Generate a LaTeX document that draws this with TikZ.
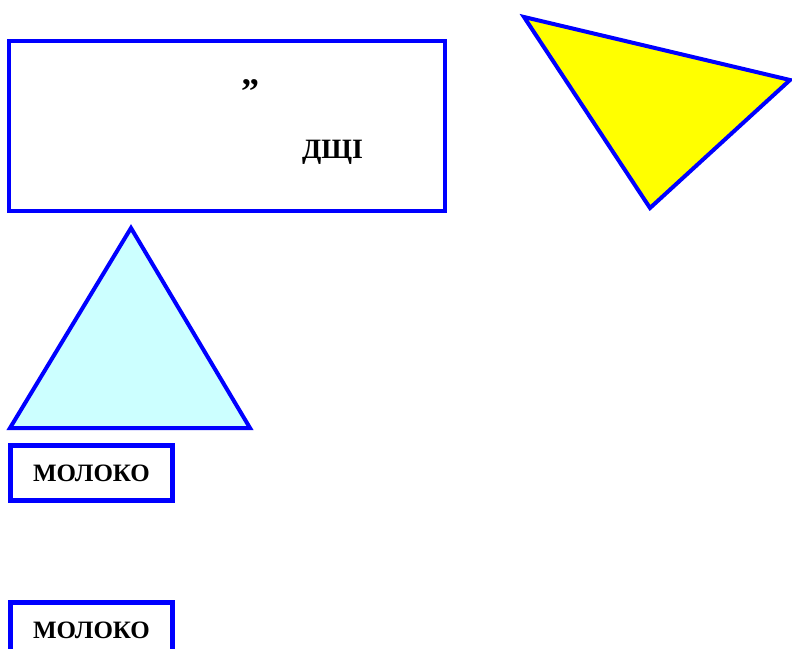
\documentclass[tikz,border=0pt]{standalone}
\usepackage{fontspec}
\setmainfont{Liberation Serif}
\usetikzlibrary{positioning}
\definecolor{pureblue}{RGB}{0,0,255}
\definecolor{paleaqua}{RGB}{204,255,255}
\definecolor{lemon}{RGB}{255,255,0}

\begin{document}
\begin{tikzpicture}[
  x=1pt, y=-1pt,
  font=\bfseries\fontsize{25}{25}\selectfont,
  frame/.style={rectangle, draw=pureblue, line width=4.5pt, fill=white, inner sep=0pt},
  tag/.style={rectangle, draw=pureblue, line width=5pt, fill=white, minimum width=162pt, minimum height=55pt, inner sep=0pt},
  word/.style={inner sep=0pt},
  tri/.style={draw=pureblue, line width=4pt, line join=miter},
]
\useasboundingbox (0,0) rectangle (792,648);
\clip (0,0) rectangle (792,648);

% ---------------- framed text ----------------
\node[frame, minimum width=436pt, minimum height=170pt] (panel) at (227,126) {};
\node[word, anchor=base, font=\bfseries\fontsize{36}{36}\selectfont] (quote) at (250,103) {”};
\node[word, anchor=base, font=\bfseries\fontsize{28}{28}\selectfont] (dshch) at (332.5,158) {ДЩІ};

% ---------------- triangles ----------------
\draw[tri, fill=lemon] (524,17) -- (790,80) -- (650,208) -- cycle;
\draw[tri, fill=paleaqua] (131,228) -- (250,428) -- (10,428) -- cycle;

% ---------------- labels ----------------
\node[tag] (milka) at (91.5,473) {МОЛОКО};
\node[tag] (milkb) at (91.5,630) {МОЛОКО};
\end{tikzpicture}
\end{document}
